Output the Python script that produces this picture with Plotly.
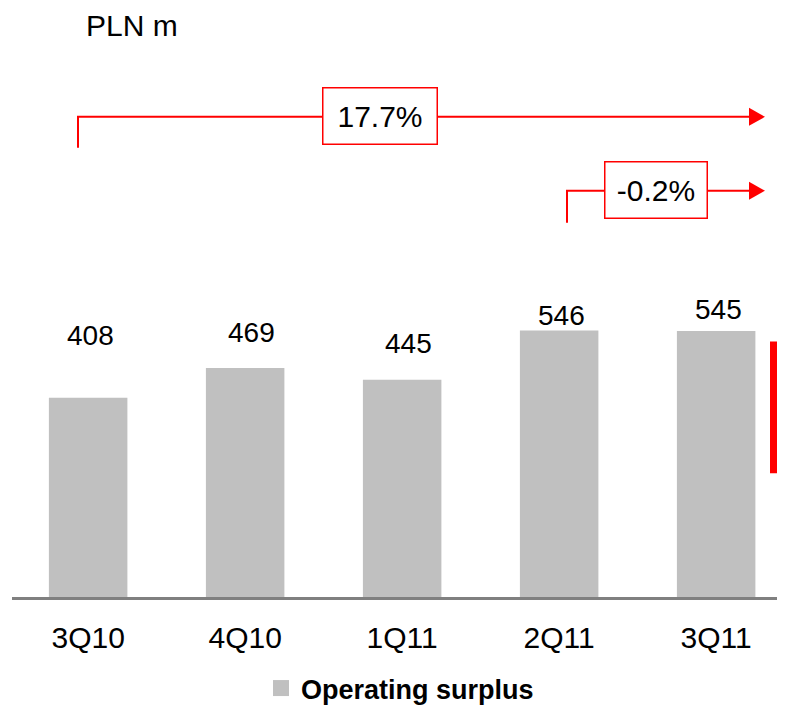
import plotly.graph_objects as go

# ---- data ----
categories = ["3Q10", "4Q10", "1Q11", "2Q11", "3Q11"]
operating_surplus = [408, 469, 445, 546, 545]
series_name = "Operating surplus"
unit_label = "PLN m"
growth_long = "17.7%"   # 3Q10 -> 3Q11
growth_short = "-0.2%"  # 2Q11 -> 3Q11

# ---- styling (label offsets in px, not data) ----
label_yshift = [62, 36, 36, 15, 21]
label_xshift = [2, 6, 6, 2, 2]

OFF = 8  # page body margin offset
W, H = 785, 705
ML, MR, MT = 12 - OFF, 0, 0
BASE = 598 - OFF
MB = H - BASE
PW, PH = W - ML - MR, H - MT - MB
STEP = 157.0
X0 = -0.485
FONT = "Liberation Sans, Arial, sans-serif"
RED = "#FF0000"
GREY = "#C0C0C0"


def px(x):
    return (x - OFF - ML) / PW


def py(y):
    return (BASE - (y - OFF)) / PH


fig = go.Figure()
fig.add_trace(go.Bar(
    x=categories, y=operating_surplus, name=series_name,
    marker=dict(color=GREY, line=dict(width=0)),
    width=0.5, showlegend=False,
))
# legend entry for the bar series (larger square swatch)
fig.add_trace(go.Scatter(
    x=[None], y=[None], mode="markers", name=series_name,
    marker=dict(symbol="square", size=16, color=GREY),
    showlegend=True, hoverinfo="skip",
))

annotations = []
for c, v, dx, dy in zip(categories, operating_surplus, label_xshift, label_yshift):
    annotations.append(dict(
        x=c, y=v, xref="x", yref="y", text=str(v), showarrow=False,
        xshift=dx, yshift=dy, yanchor="middle",
        font=dict(family=FONT, size=28, color="black"),
    ))

annotations.append(dict(
    x=px(84), y=py(26), xref="paper", yref="paper", text=unit_label,
    showarrow=False, xanchor="left", yanchor="middle",
    font=dict(family=FONT, size=30, color="black"),
))

for text, cx, cy, bw in [(growth_long, 379.5, 116.5, 111), (growth_short, 655.5, 190.5, 99)]:
    annotations.append(dict(
        x=px(cx), y=py(cy), xref="paper", yref="paper", text=text,
        showarrow=False, xanchor="center", yanchor="middle",
        width=bw, height=53, borderpad=1, borderwidth=1.5,
        bordercolor=RED, bgcolor="white",
        font=dict(family=FONT, size=30, color="black"),
    ))

shapes = []


def seg(x0, y0, x1, y1):
    shapes.append(dict(type="line", xref="paper", yref="paper",
                       x0=px(x0), y0=py(y0), x1=px(x1), y1=py(y1),
                       line=dict(color=RED, width=2)))


def tri(xt, yc):
    path = "M {} {} L {} {} L {} {} Z".format(
        px(xt - 16), py(yc - 9), px(xt), py(yc), px(xt - 16), py(yc + 9))
    shapes.append(dict(type="path", xref="paper", yref="paper", path=path,
                       fillcolor=RED, line=dict(color=RED, width=0)))


# long bracket
seg(78, 148, 78, 117)
seg(77, 117, 752, 117)
tri(765, 117)
# short bracket
seg(567, 223, 567, 191)
seg(566, 191, 752, 191)
tri(765, 191)

# red bar at right edge
shapes.append(dict(type="rect", xref="paper", yref="paper",
                   x0=px(770), x1=px(800), y0=py(474), y1=py(342),
                   fillcolor=RED, line=dict(width=0)))

fig.update_layout(
    width=W, height=H,
    margin=dict(l=ML, r=MR, t=MT, b=MB, pad=0),
    paper_bgcolor="white", plot_bgcolor="white",
    font=dict(family=FONT, color="black"),
    xaxis=dict(
        type="category", range=[X0, X0 + PW / STEP],
        showline=True, linecolor="#808080", linewidth=3,
        ticks="outside", ticklen=12, tickcolor="rgba(0,0,0,0)",
        tickfont=dict(family=FONT, size=30, color="black"),
        showgrid=False, zeroline=False, fixedrange=True,
    ),
    yaxis=dict(range=[0, PH / 0.489], visible=False, fixedrange=True),
    legend=dict(
        orientation="h", x=px(400), xanchor="center", y=py(690), yanchor="middle",
        font=dict(family=FONT, size=27, color="black", weight="bold"),
        itemwidth=30, bgcolor="rgba(0,0,0,0)",
    ),
    annotations=annotations,
    shapes=shapes,
)

fig.write_html("out.html")
